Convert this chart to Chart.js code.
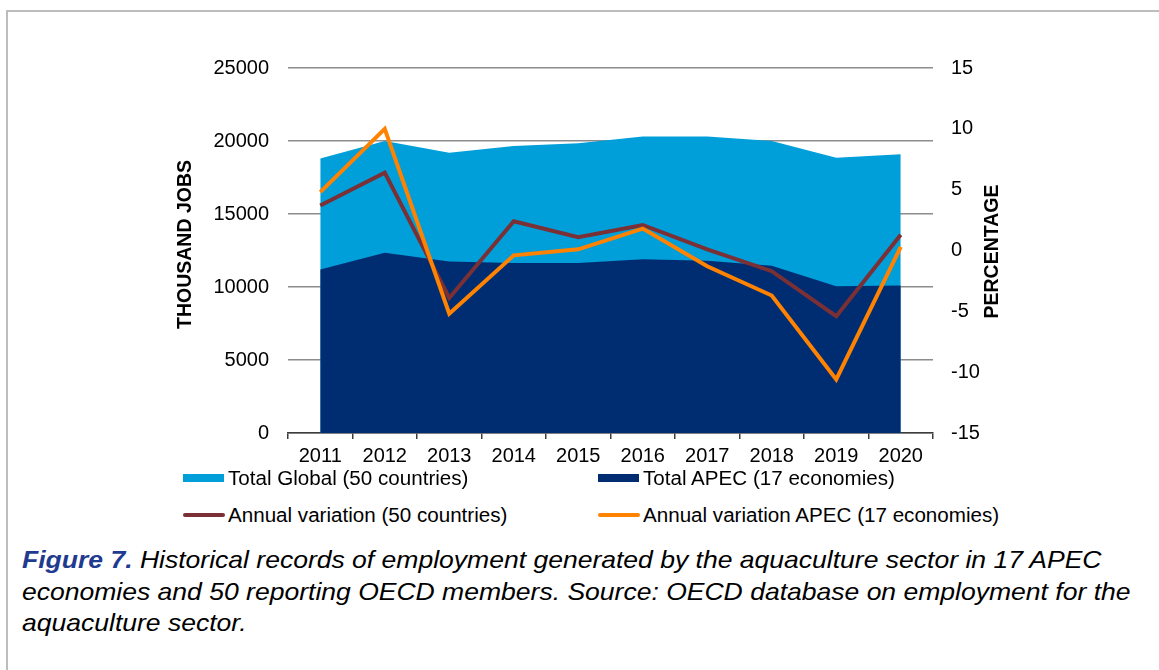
<!DOCTYPE html>
<html>
<head>
<meta charset="utf-8">
<script src="https://cdn.jsdelivr.net/npm/chart.js@4.4.0/dist/chart.umd.min.js"></script>
<style>
  body { margin: 0; width: 1159px; height: 670px; background: #fff; position: relative; overflow: hidden;
         font-family: "Liberation Sans", Arial, sans-serif; }
  #frame { position: absolute; left: 6px; top: 10px; width: 1170px; height: 680px;
           border-top: 2px solid #bdbdbd; border-left: 2px solid #bdbdbd; }
  #wrap { position: absolute; left: 160px; top: 37px; width: 880px; height: 433px; }
  .item { position: absolute; font-size: 20px; line-height: 24px; color: #000; white-space: nowrap;
          transform: scaleX(1.03); transform-origin: left center; }
  .mark { position: absolute; }
  #caption { position: absolute; left: 22px; top: 544px; font-size: 24px; font-style: italic;
             line-height: 31.5px; white-space: nowrap; color: #000;
             transform: scaleX(1.105); transform-origin: left top; }
  #caption b { color: #1f3b8f; }
</style>
</head>
<body>
<div id="frame"></div>
<div id="wrap"><canvas id="chart" width="880" height="433"></canvas></div>
<div id="legend"></div>
<div id="caption"><b>Figure 7.</b> Historical records of employment generated by the aquaculture sector in 17 APEC<br>economies and 50 reporting OECD members. Source: OECD database on employment for the<br>aquaculture sector.</div>
<script>
// values
const years = ['2011', '2012', '2013', '2014', '2015', '2016', '2017', '2018', '2019', '2020'];
const totalGlobal = [18800, 20000, 19200, 19650, 19850, 20300, 20300, 20000, 18850, 19100];
const totalApec = [11200, 12350, 11750, 11650, 11650, 11900, 11800, 11450, 10050, 10100];
const varGlobal = [3.7, 6.4, -3.9, 2.4, 1.1, 2.1, 0.1, -1.7, -5.4, 1.3];
const varApec = [4.8, 10.0, -5.2, -0.4, 0.1, 1.8, -1.3, -3.7, -10.6, 0.3];
const jobsTicks = [0, 5000, 10000, 15000, 20000, 25000];
const pctTicks = [-15, -10, -5, 0, 5, 10, 15];
const leftTitle = 'THOUSAND JOBS';
const rightTitle = 'PERCENTAGE';

const FONT = '"Liberation Sans", Arial, sans-serif';
const tickFont = { family: FONT, size: 20 };

const axisTitles = {
    id: 'axisTitles',
    afterDraw(chart) {
        const ctx = chart.ctx;
        const a = chart.chartArea;
        ctx.save();
        ctx.font = 'bold 19.5px ' + FONT;
        ctx.fillStyle = '#000';
        ctx.textAlign = 'center';
        ctx.textBaseline = 'middle';
        ctx.save();
        ctx.translate(a.left - 102, (a.top + a.bottom) / 2 - 6);
        ctx.rotate(-Math.PI / 2);
        ctx.fillText(leftTitle, 0, 0);
        ctx.restore();
        ctx.translate(a.right + 60, (a.top + a.bottom) / 2 + 1);
        ctx.rotate(-Math.PI / 2);
        ctx.fillText(rightTitle, 0, 0);
        ctx.restore();
    }
};

const chart = new Chart(document.getElementById('chart'), {
    type: 'line',
    data: {
        labels: years,
        datasets: [
            { label: 'Total Global (50 countries)', data: totalGlobal, yAxisID: 'y', order: 3,
              fill: 'origin', backgroundColor: '#009fda', borderColor: '#009fda', borderWidth: 0, pointRadius: 0 },
            { label: 'Total APEC (17 economies)', data: totalApec, yAxisID: 'y', order: 2,
              fill: 'origin', backgroundColor: '#002d72', borderColor: '#002d72', borderWidth: 0, pointRadius: 0 },
            { label: 'Annual variation (50 countries)', data: varGlobal, yAxisID: 'y1', order: 1,
              fill: false, borderColor: '#7a3035', borderWidth: 4, pointRadius: 0, tension: 0 },
            { label: 'Annual variation APEC (17 economies)', data: varApec, yAxisID: 'y1', order: 0,
              fill: false, borderColor: '#ff8200', borderWidth: 4, pointRadius: 0, tension: 0 }
        ]
    },
    options: {
        responsive: false,
        animation: false,
        layout: { padding: { top: 25, left: 0, right: 0, bottom: 0 } },
        plugins: { legend: { display: false }, tooltip: { enabled: false } },
        scales: {
            x: {
                offset: true,
                grid: { offset: true, drawOnChartArea: false, drawTicks: true, tickLength: 6, color: '#3c3c3c', lineWidth: 1.5 },
                border: { color: '#3c3c3c', width: 1.5 },
                ticks: { font: tickFont, color: '#000', padding: 5, maxRotation: 0, autoSkip: false },
                afterFit: s => { s.height = 37; }
            },
            y: {
                position: 'left', min: 0, max: 25000,
                grid: { color: '#8c8c8c', lineWidth: 1.5, drawTicks: false },
                border: { display: false },
                ticks: { font: tickFont, color: '#000', padding: 19, callback: v => String(v) },
                afterBuildTicks: s => { s.ticks = jobsTicks.map(v => ({ value: v })); },
                afterFit: s => { s.width = 128; }
            },
            y1: {
                position: 'right', min: -15, max: 15,
                grid: { drawOnChartArea: false, drawTicks: false },
                border: { display: false },
                ticks: { font: tickFont, color: '#000', padding: 18, callback: v => String(v) },
                afterBuildTicks: s => { s.ticks = pctTicks.map(v => ({ value: v })); },
                afterFit: s => { s.width = 107; }
            }
        }
    },
    plugins: [axisTitles]
});

// legend laid out like the original: two columns, two rows
const slots = [[183, 478], [598, 478], [183, 515], [598, 515]];
const legend = document.getElementById('legend');
chart.data.datasets.forEach((ds, i) => {
    const [x, y] = slots[i];
    const m = document.createElement('div');
    m.className = 'mark';
    if (ds.fill) {
        m.style.cssText = `left:${x}px;top:${y - 4}px;width:41px;height:8px;background:${ds.backgroundColor};`;
    } else {
        m.style.cssText = `left:${x}px;top:${y - 2}px;width:42px;height:4px;border-radius:2px;background:${ds.borderColor};`;
    }
    legend.appendChild(m);
    const t = document.createElement('div');
    t.className = 'item';
    t.style.left = (x + 45) + 'px';
    t.style.top = (y - 12) + 'px';
    t.textContent = ds.label;
    legend.appendChild(t);
});
</script>
</body>
</html>
